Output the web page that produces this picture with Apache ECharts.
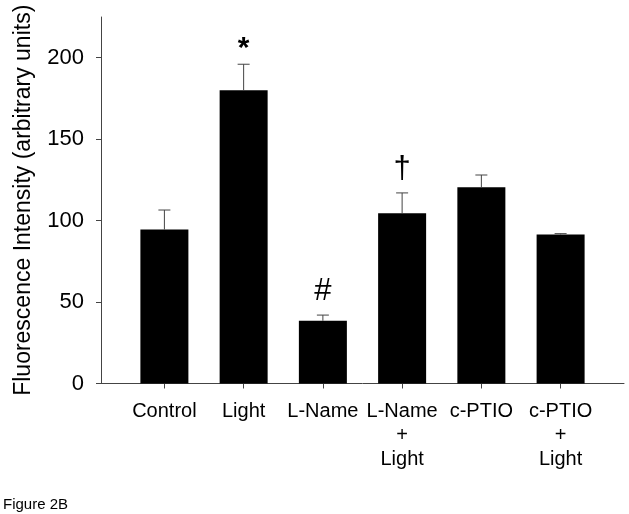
<!DOCTYPE html>
<html>
<head>
<meta charset="utf-8">
<script src="https://cdn.jsdelivr.net/npm/echarts@6/dist/echarts.min.js"></script>
<style>
html,body{margin:0;padding:0;background:#fff;}
#chart{width:629px;height:514px;}
</style>
</head>
<body>
<div id="chart"></div>
<script>
// ---- data ----
const categories = ['Control', 'Light', 'L-Name', 'L-Name\n+\nLight', 'c-PTIO', 'c-PTIO\n+\nLight'];
const means = [94.5, 180, 38.5, 104.5, 120.5, 91.5];
const errors = [12, 16, 3.5, 12.5, 7.5, 0.5];
const marks = ['', '*', '#', '\u2020', '', ''];
const yTicks = [0, 50, 100, 150, 200];
const yTitle = 'Fluorescence Intensity (arbitrary units)';
const figLabel = 'Figure 2B';

const FONT = "'Liberation Sans', Arial, sans-serif";
const AXIS_COLOR = '#444';
const idx = categories.map((c, i) => i);

const chart = echarts.init(document.getElementById('chart'), null, {renderer: 'canvas'});
chart.setOption({
  animation: false,
  backgroundColor: '#fff',
  title: {
    text: figLabel, left: -2, top: 492,
    textStyle: {fontFamily: FONT, fontSize: 15, fontWeight: 'normal', color: '#000'}
  },
  grid: {left: 101, right: 5, top: 17, bottom: 130.5, containLabel: false},
  xAxis: {
    type: 'value', min: -0.8, max: 5.8,
    axisLine: {show: true, onZero: false, lineStyle: {color: AXIS_COLOR, width: 1}},
    axisTick: {show: true, customValues: idx, length: 5, lineStyle: {color: AXIS_COLOR}},
    axisLabel: {
      customValues: idx, margin: 16,
      formatter: v => categories[Math.round(v)] || '',
      fontFamily: FONT, fontSize: 20, color: '#000', lineHeight: 24
    },
    splitLine: {show: false}
  },
  yAxis: {
    type: 'value', min: 0, max: 225,
    name: yTitle, nameLocation: 'middle', nameGap: 66,
    nameTextStyle: {fontFamily: FONT, fontSize: 23, color: '#000'},
    axisLine: {show: true, onZero: false, lineStyle: {color: AXIS_COLOR, width: 1}},
    axisTick: {show: true, customValues: yTicks, length: 5, lineStyle: {color: AXIS_COLOR}},
    axisLabel: {
      customValues: yTicks, margin: 17,
      fontFamily: FONT, fontSize: 22, color: '#000'
    },
    splitLine: {show: false}
  },
  series: [
    {
      type: 'bar', barWidth: 48,
      itemStyle: {color: '#000'},
      data: means.map((v, i) => [i, v])
    },
    {
      type: 'custom',
      data: means.map((v, i) => [i, v, v + errors[i]]),
      renderItem: function (params, api) {
        const i = api.value(0);
        const base = api.coord([i, api.value(1)]);
        const top = api.coord([i, api.value(2)]);
        const half = 6;
        const style = {stroke: AXIS_COLOR, lineWidth: 1};
        const children = [
          {type: 'line', shape: {x1: base[0], y1: base[1], x2: top[0], y2: top[1]}, style},
          {type: 'line', shape: {x1: top[0] - half, y1: top[1], x2: top[0] + half, y2: top[1]}, style}
        ];
        const m = marks[params.dataIndex];
        if (m) {
          const big = m === '*';
          children.push({
            type: 'text',
            style: {
              text: m, x: top[0], y: top[1] - (big ? 1 : 8),
              align: 'center', verticalAlign: 'bottom',
              font: (big ? 'bold 30px ' : '31px ') + FONT, fill: '#000'
            }
          });
        }
        return {type: 'group', children};
      },
      z: 5
    }
  ]
});
</script>
</body>
</html>
